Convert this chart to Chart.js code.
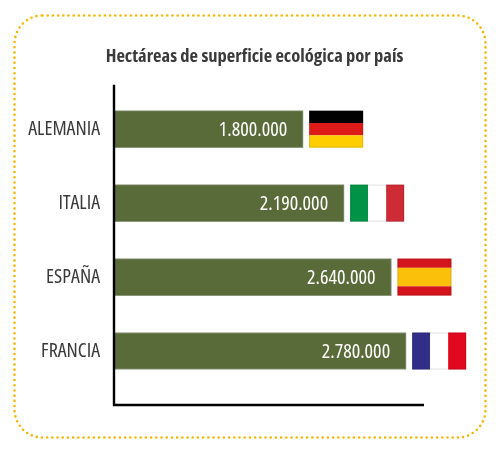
<!DOCTYPE html>
<html>
<head>
<meta charset="utf-8">
<script src="https://cdn.jsdelivr.net/npm/chart.js@4"></script>
<style>
  html, body { margin: 0; padding: 0; background: #ffffff; }
  #wrap { width: 500px; height: 458px; position: relative; }
</style>
</head>
<body>
<div id="wrap"><canvas id="c" width="500" height="458"></canvas></div>
<script>
const titleText = 'Hectáreas de superficie ecológica por país';
const countries = ['ALEMANIA', 'ITALIA', 'ESPAÑA', 'FRANCIA'];
const hectares = [1800000, 2190000, 2640000, 2780000];
const valueLabels = ['1.800.000', '2.190.000', '2.640.000', '2.780.000'];
const flagKinds = ['de', 'it', 'es', 'fr'];

const FAMILY = '"Open Sans", "Open Sans Condensed", "DejaVu Sans", sans-serif';

const flagDefs = {
  de: { dir: 'h', parts: [1, 1, 1], colors: ['#000000', '#dd1c1a', '#ffce00'] },
  it: { dir: 'v', parts: [1, 1, 1], colors: ['#009246', '#ffffff', '#ce2b37'] },
  es: { dir: 'h', parts: [1, 2, 1], colors: ['#d3141c', '#fbc10a', '#d3141c'] },
  fr: { dir: 'v', parts: [1, 1, 1], colors: ['#312e88', '#ffffff', '#e1081f'] }
};

const framePlugin = {
  id: 'frame',
  beforeDraw(chart) {
    const ctx = chart.ctx;
    ctx.save();
    ctx.strokeStyle = '#f2b705';
    ctx.lineWidth = 2.6;
    ctx.lineCap = 'round';
    ctx.setLineDash([0, 5.2]);
    ctx.beginPath();
    ctx.roundRect(14.5, 15.5, 471, 422, 28);
    ctx.stroke();
    ctx.restore();
  }
};

const axesPlugin = {
  id: 'axesLines',
  afterDatasetsDraw(chart) {
    const ctx = chart.ctx;
    const a = chart.chartArea;
    const x0 = chart.scales.x.getPixelForValue(0);
    ctx.save();
    ctx.strokeStyle = '#000000';
    ctx.lineWidth = 2.4;
    ctx.beginPath();
    ctx.moveTo(x0, a.top - 7.5);
    ctx.lineTo(x0, a.bottom + 17);
    ctx.lineTo(a.right, a.bottom + 17);
    ctx.stroke();
    ctx.restore();
  }
};

const labelsFlagsPlugin = {
  id: 'labelsFlags',
  afterDatasetsDraw(chart) {
    const ctx = chart.ctx;
    const meta = chart.getDatasetMeta(0);
    ctx.save();
    meta.data.forEach((bar, i) => {
      const top = bar.y - bar.height / 2;
      const h = bar.height;
      ctx.fillStyle = '#ffffff';
      ctx.font = 'condensed 20px ' + FAMILY;
      ctx.textAlign = 'right';
      ctx.textBaseline = 'middle';
      ctx.fillText(valueLabels[i], bar.x - 16, bar.y + 1);
      const def = flagDefs[flagKinds[i]];
      const fx = bar.x + 6, fw = 54;
      const total = def.parts.reduce((s, p) => s + p, 0);
      let acc = 0;
      def.parts.forEach((p, k) => {
        ctx.fillStyle = def.colors[k];
        if (def.dir === 'h') {
          ctx.fillRect(fx, top + h * acc / total, fw, h * p / total);
        } else {
          ctx.fillRect(fx + fw * acc / total, top, fw * p / total, h);
        }
        acc += p;
      });
      ctx.strokeStyle = 'rgba(0,0,0,0.12)';
      ctx.lineWidth = 1;
      ctx.strokeRect(fx + 0.5, top + 0.5, fw - 1, h - 1);
    });
    ctx.restore();
  }
};

new Chart(document.getElementById('c'), {
  type: 'bar',
  data: {
    labels: countries,
    datasets: [{
      data: hectares,
      backgroundColor: '#5a6b3a',
      borderColor: '#8a957a',
      borderWidth: 1,
      borderSkipped: 'start',
      barThickness: 37,
      yAxisID: 'y'
    }]
  },
  options: {
    indexAxis: 'y',
    responsive: false,
    animation: false,
    devicePixelRatio: 1,
    layout: { padding: { left: 9, right: 0, bottom: 70, top: 0 } },
    plugins: {
      legend: { display: false },
      tooltip: { enabled: false },
      title: {
        display: true,
        text: titleText,
        color: '#3a3a3a',
        font: { family: FAMILY, size: 18.5, weight: 'bold condensed', lineHeight: 1.2 },
        padding: { top: 46, bottom: 24 }
      }
    },
    scales: {
      x: {
        min: 0,
        max: 2950000,
        ticks: { display: false },
        grid: { display: false },
        border: { display: false },
        afterFit(scale) { scale.height = 0; }
      },
      y: {
        position: 'left',
        ticks: { color: '#3a3a3a', font: { family: FAMILY, size: 20, weight: 'condensed' }, padding: 14 },
        grid: { display: false, drawTicks: false },
        border: { display: false },
        afterFit(scale) { scale.width = 105; }
      },
      yRight: {
        type: 'category',
        position: 'right',
        labels: countries,
        ticks: { display: false },
        grid: { display: false, drawTicks: false },
        border: { display: false },
        afterFit(scale) { scale.width = 76; }
      }
    }
  },
  plugins: [framePlugin, axesPlugin, labelsFlagsPlugin]
});
</script>
</body>
</html>
